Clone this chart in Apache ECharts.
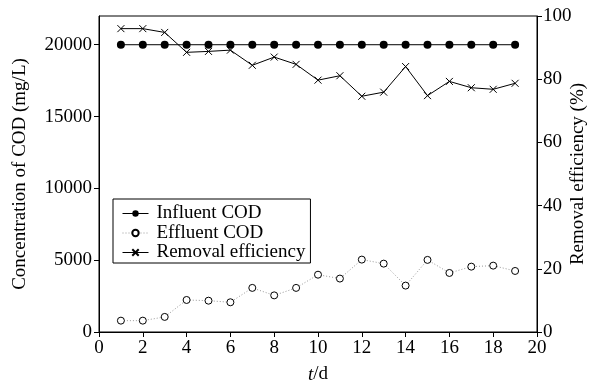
<!DOCTYPE html>
<html>
<head>
<meta charset="utf-8">
<script src="https://cdn.jsdelivr.net/npm/echarts@6/dist/echarts.min.js"></script>
<style>
  html, body { margin: 0; padding: 0; background: #fff; }
  #chart { width: 592px; height: 383px; }
</style>
</head>
<body>
<div id="chart"></div>
<script>
// Operating days
const days = [1, 2, 3, 4, 5, 6, 7, 8, 9, 10, 11, 12, 13, 14, 15, 16, 17, 18, 19];
// Influent COD (mg/L)
const influentCOD = [20000, 20000, 20000, 20000, 20000, 20000, 20000, 20000, 20000, 20000,
                     20000, 20000, 20000, 20000, 20000, 20000, 20000, 20000, 20000];
// Effluent COD (mg/L)
const effluentCOD = [790, 790, 1050, 2230, 2180, 2070, 3070, 2550, 3070, 3990,
                     3720, 5040, 4760, 3230, 5020, 4110, 4550, 4620, 4250];
// COD removal efficiency (%)
const removalEff = [96.0, 96.0, 94.8, 88.5, 88.8, 89.2, 84.4, 87.0, 84.7, 79.7,
                    81.1, 74.6, 75.9, 84.0, 74.8, 79.3, 77.3, 76.8, 78.7];
// Tick values of the concentration axis
const codTicks = [0, 5000, 10000, 15000, 20000];

const FONT = "'Liberation Serif', 'Times New Roman', serif";
const crossPath = 'path://M0,0L10,10M10,0L0,10';

const pair = (xs, ys) => xs.map((x, i) => [x, ys[i]]);

const chart = echarts.init(document.getElementById('chart'), null, { renderer: 'canvas' });

const axisLineStyle = { color: '#000', width: 1 };
const labelStyle = { color: '#000', fontFamily: FONT, fontSize: 19 };

chart.setOption({
  animation: false,
  backgroundColor: '#fff',
  grid: {
    left: 99, right: 55, top: 16, bottom: 51,
    outerBoundsMode: 'none',
    containLabel: false,
    show: true, borderColor: '#000', borderWidth: 1, backgroundColor: 'transparent'
  },
  legend: {
    orient: 'vertical',
    left: 113, top: 199,
    padding: [5, 5, 1, 9],
    itemGap: 0.5,
    itemWidth: 26, itemHeight: 8,
    borderColor: '#000', borderWidth: 1,
    lineStyle: { width: 1 },
    textStyle: { color: '#000', fontFamily: FONT, fontSize: 19, padding: [0, 0, 0, 3] },
    data: ['Influent COD', 'Effluent COD', 'Removal efficiency']
  },
  xAxis: {
    type: 'value', min: 0, max: 20, interval: 2,
    name: '{i|t}/d', nameLocation: 'middle', nameGap: 33, nameMoveOverlap: false,
    nameTextStyle: {
      color: '#000', fontFamily: FONT, fontSize: 19,
      rich: { i: { fontStyle: 'italic', fontFamily: FONT, fontSize: 19, color: '#000' } }
    },
    axisLine: { lineStyle: axisLineStyle },
    axisTick: { show: true, inside: false, length: 5, lineStyle: axisLineStyle },
    axisLabel: Object.assign({ margin: 7 }, labelStyle),
    splitLine: { show: false }
  },
  yAxis: [
    {
      type: 'value', min: 0, max: 22000, interval: 5000,
      position: 'left',
      name: 'Concentration of COD (mg/L)', nameLocation: 'middle', nameGap: 69, nameMoveOverlap: false,
      nameTextStyle: { color: '#000', fontFamily: FONT, fontSize: 19 },
      axisLine: { show: true, lineStyle: axisLineStyle },
      axisTick: { show: true, inside: false, length: 5, lineStyle: axisLineStyle, customValues: codTicks },
      axisLabel: Object.assign({ margin: 7, customValues: codTicks, formatter: v => String(v) }, labelStyle),
      splitLine: { show: false }
    },
    {
      type: 'value', min: 0, max: 100, interval: 20,
      position: 'right',
      name: 'Removal efficiency (%)', nameLocation: 'middle', nameGap: 32, nameMoveOverlap: false,
      nameRotate: 90,
      nameTextStyle: { color: '#000', fontFamily: FONT, fontSize: 19 },
      axisLine: { show: true, lineStyle: axisLineStyle },
      axisTick: { show: true, inside: false, length: 5, lineStyle: axisLineStyle },
      axisLabel: Object.assign({ margin: 6 }, labelStyle),
      splitLine: { show: false }
    }
  ],
  series: [
    {
      name: 'Removal efficiency',
      type: 'line', yAxisIndex: 1,
      data: pair(days, removalEff),
      symbol: crossPath, symbolSize: 7,
      lineStyle: { color: '#000', width: 1 },
      itemStyle: { color: '#000', borderColor: '#000', borderWidth: 1 },
      z: 2
    },
    {
      name: 'Influent COD',
      type: 'line', yAxisIndex: 0,
      data: pair(days, influentCOD),
      symbol: 'circle', symbolSize: 8,
      lineStyle: { color: '#000', width: 1 },
      itemStyle: { color: '#000', borderColor: '#000', borderWidth: 0 },
      z: 3
    },
    {
      name: 'Effluent COD',
      type: 'line', yAxisIndex: 0,
      data: pair(days, effluentCOD),
      symbol: 'circle', symbolSize: 7,
      lineStyle: { color: '#999', width: 1, type: [1, 2] },
      itemStyle: { color: '#fff', borderColor: '#000', borderWidth: 1 },
      z: 3
    }
  ]
});
</script>
</body>
</html>
